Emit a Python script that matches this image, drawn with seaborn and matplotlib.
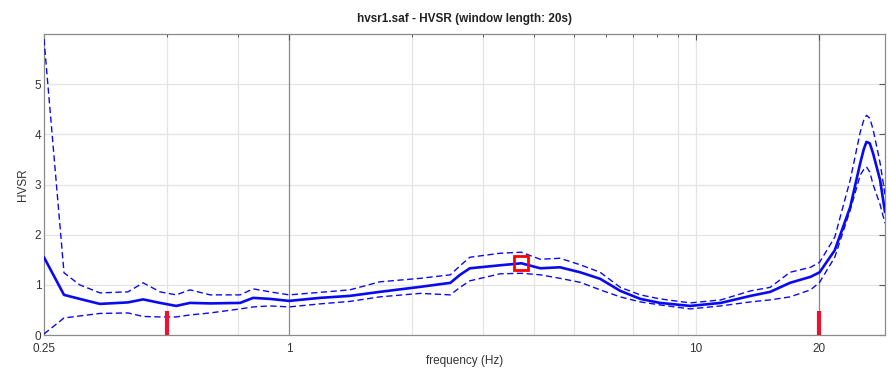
import numpy as np
import pandas as pd
import matplotlib
matplotlib.use("Agg")
import matplotlib.pyplot as plt
import seaborn as sns
from matplotlib.ticker import FixedLocator, FixedFormatter, NullFormatter

# Frequency grid (Hz)
freq = [0.25, 0.28, 0.306, 0.343, 0.402, 0.438, 0.482, 0.528, 0.571, 0.64,
        0.758, 0.816, 0.898, 1.0, 1.19, 1.41, 1.67, 2.10, 2.49, 2.63,
        2.78, 3.30, 3.72, 4.14, 4.63, 5.19, 5.81, 6.51, 7.29, 8.15,
        9.67, 11.5, 13.6, 15.2, 17.0, 19.1, 20.1, 21.9, 23.9, 25.3,
        25.8, 26.2, 26.7, 27.2, 28.3, 29.1]

# Mean H/V curve
hvsr_mean = [1.55, 0.80, 0.72, 0.62, 0.65, 0.71, 0.64, 0.58, 0.64, 0.63,
             0.64, 0.74, 0.72, 0.68, 0.74, 0.78, 0.86, 0.96, 1.04, 1.20,
             1.33, 1.39, 1.43, 1.33, 1.35, 1.25, 1.12, 0.88, 0.72, 0.64,
             0.58, 0.64, 0.78, 0.86, 1.04, 1.16, 1.25, 1.69, 2.55, 3.43,
             3.70, 3.85, 3.82, 3.62, 3.09, 2.45]

# Mean + one standard deviation
hvsr_upper = [5.90, 1.24, 1.00, 0.84, 0.86, 1.04, 0.86, 0.80, 0.90, 0.80,
              0.80, 0.92, 0.86, 0.80, 0.85, 0.90, 1.06, 1.13, 1.20, 1.38,
              1.55, 1.63, 1.65, 1.51, 1.53, 1.40, 1.25, 0.95, 0.80, 0.72,
              0.64, 0.70, 0.88, 0.95, 1.25, 1.35, 1.45, 1.95, 3.09, 4.05,
              4.28, 4.38, 4.32, 4.10, 3.43, 2.80]

# Mean - one standard deviation
hvsr_lower = [0.02, 0.34, 0.38, 0.43, 0.44, 0.37, 0.36, 0.36, 0.40, 0.44,
              0.52, 0.56, 0.58, 0.56, 0.62, 0.67, 0.76, 0.83, 0.80, 0.95,
              1.08, 1.22, 1.23, 1.20, 1.13, 1.05, 0.90, 0.76, 0.66, 0.60,
              0.52, 0.58, 0.66, 0.70, 0.76, 0.90, 1.05, 1.55, 2.49, 3.19,
              3.30, 3.35, 3.25, 3.00, 2.60, 2.23]

# Peak of the H/V curve
peak_freq = 3.72
peak_amp = 1.43

# Frequency band limits
band_limits = [0.5, 20.0]
band_marker_height = 0.47

x_tick_values = [0.25, 1, 10, 20]
x_tick_labels = ["0.25", "1", "10", "20"]
y_tick_values = [0, 1, 2, 3, 4, 5]

sns.set_style("white")
plt.rcParams["font.family"] = ["Liberation Sans", "DejaVu Sans"]

fig = plt.figure(figsize=(8.9, 3.83), dpi=100)
ax = fig.add_axes([0.0494, 0.1253, 0.945, 0.7859])
ax.set_xscale("log")

# Light grid
for gx in [0.5, 0.75, 2, 3, 4, 5, 7, 9, 10]:
    ax.axvline(gx, color="#e4e4e4", lw=0.9, zorder=0)
for gy in [1, 2, 3, 4, 5]:
    ax.axhline(gy, color="#e4e4e4", lw=0.9, zorder=0)
for gx in [1, 20]:
    ax.axvline(gx, color="#8a8a8a", lw=0.9, zorder=0)

df = pd.DataFrame({"freq": freq, "mean": hvsr_mean,
                   "upper": hvsr_upper, "lower": hvsr_lower})

blue = "#0a0af0"
sns.lineplot(data=df, x="freq", y="upper", ax=ax, color=blue, lw=1.0,
             linestyle=(0, (4.5, 2.5)), zorder=3)
sns.lineplot(data=df, x="freq", y="lower", ax=ax, color=blue, lw=1.0,
             linestyle=(0, (4.5, 2.5)), zorder=3)
sns.lineplot(data=df, x="freq", y="mean", ax=ax, color=blue, lw=1.9, zorder=4)

# Band limit markers
for bx in band_limits:
    ax.plot([bx, bx], [0, band_marker_height], color="#ee1030", lw=3,
            solid_capstyle="butt", zorder=5)

# Peak marker
ax.plot([peak_freq], [peak_amp], marker="s", ms=10.5, mfc="none",
        mec="#ff0000", mew=2, zorder=6)

ax.set_xlim(0.25, 29.1)
ax.set_ylim(0, 6)

ax.xaxis.set_major_locator(FixedLocator(x_tick_values))
ax.xaxis.set_major_formatter(FixedFormatter(x_tick_labels))
ax.xaxis.set_minor_locator(FixedLocator([0.5, 0.75, 2, 3, 4, 5, 6, 7, 8, 9]))
ax.xaxis.set_minor_formatter(NullFormatter())
ax.yaxis.set_major_locator(FixedLocator(y_tick_values))

ax.tick_params(axis="both", which="both", direction="in", top=True,
               right=True, colors="#555555", labelcolor="#333333",
               labelsize=8.5)
ax.tick_params(axis="x", which="major", pad=5.5)
ax.tick_params(axis="y", which="major", pad=2)
ax.tick_params(axis="both", which="major", length=4, width=0.8)
ax.tick_params(axis="x", which="minor", length=2.5, width=0.7)

for s in ax.spines.values():
    s.set_color("#8a8a8a")
    s.set_linewidth(0.9)

ax.set_xlabel("frequency (Hz)", fontsize=8.5, color="#333333", labelpad=0)
ax.set_ylabel("HVSR", fontsize=8.5, color="#333333", labelpad=4)
ax.set_title("hvsr1.saf - HVSR (window length: 20s)", fontsize=8.5,
             fontweight="bold", color="#222222", pad=9)

fig.savefig("out.png", dpi=100)
